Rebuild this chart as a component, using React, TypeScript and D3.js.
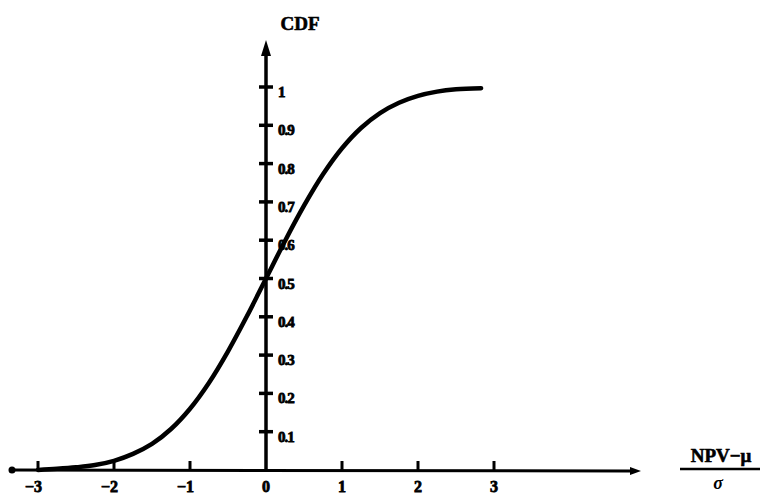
import * as d3 from 'd3';
import React from 'react';

// standardized NPV values (x) and cumulative probability (y)
const cdfX = [-3, -2.75, -2.5, -2.25, -2, -1.75, -1.5, -1.25, -1, -0.75, -0.5, -0.25, 0, 0.25, 0.5, 0.75, 1, 1.25, 1.5, 1.75, 2, 2.25, 2.5, 2.83];
const cdfY = [0.0, 0.003, 0.007, 0.013, 0.024, 0.042, 0.068, 0.107, 0.16, 0.228, 0.31, 0.402, 0.5, 0.598, 0.69, 0.772, 0.84, 0.893, 0.932, 0.959, 0.977, 0.988, 0.994, 0.997];

const xTicks = [-3, -2, -1, 0, 1, 2, 3];
const xTickLabels = ['−3', '−2', '−1', '0', '1', '2', '3'];
const yTicks = [0.1, 0.2, 0.3, 0.4, 0.5, 0.6, 0.7, 0.8, 0.9, 1];
const yTickLabels = ['0.1', '0.2', '0.3', '0.4', '0.5', '0.6', '0.7', '0.8', '0.9', '1'];

const width = 767;
const height = 495;

const App = () => {
  const x = d3.scaleLinear().domain([-3, 3]).range([38, 494]);
  const y = d3.scaleLinear().domain([0, 1]).range([470, 87]);

  const points = cdfX.map((v, i) => [v, cdfY[i]] as [number, number]);
  const line = d3
    .line<[number, number]>()
    .x((d) => x(d[0]))
    .y((d) => y(d[1]))
    .curve(d3.curveCatmullRom);

  const x0 = x(0);
  const y0 = y(0);
  const font = '"Liberation Serif", "DejaVu Serif", serif';

  return (
    <svg width={width} height={height} style={{ position: 'absolute', left: 0, top: 0 }}>
      <rect width={width} height={height} fill="#fff" />
      {/* x axis */}
      <line x1={10} y1={y0} x2={632} y2={y0 + 1} stroke="#000" strokeWidth={3} />
      <circle cx={12} cy={y0} r={3.5} fill="#000" />
      <path d={`M${641},${y0 + 1} L${630},${y0 - 3} L${630},${y0 + 5} Z`} fill="#000" />
      {/* y axis */}
      <line x1={x0} y1={y0} x2={x0} y2={52} stroke="#000" strokeWidth={3.5} />
      <path d={`M${x0},40 L${x0 - 5},56 L${x0 + 5},56 Z`} fill="#000" />

      {xTicks.map((t, i) => (
        <g key={t}>
          {t !== 0 && <line x1={x(t)} y1={y0} x2={x(t)} y2={y0 - 9} stroke="#000" strokeWidth={3} />}
          <text
            x={x(t)}
            y={y0 + 22}
            fontFamily={font}
            fontWeight="bold"
            fontSize={16}
            stroke="#000"
            strokeWidth={0.8}
            textAnchor={t < 0 ? 'end' : 'middle'}
            dx={t < 0 ? 4 : 0}
          >
            {xTickLabels[i]}
          </text>
        </g>
      ))}

      {yTicks.map((t, i) => (
        <g key={t}>
          <line x1={x0 - 7} y1={y(t)} x2={x0 + 7} y2={y(t)} stroke="#000" strokeWidth={3.5} />
          <text
            x={x0 + 12}
            y={y(t) + 10}
            fontFamily={font}
            fontWeight="bold"
            fontSize={15}
            stroke="#000"
            strokeWidth={0.8}
            letterSpacing={-1}
          >
            {yTickLabels[i]}
          </text>
        </g>
      ))}

      <path d={line(points) ?? ''} fill="none" stroke="#000" strokeWidth={4.5} strokeLinecap="round" />

      <text x={300} y={30} fontFamily={font} fontWeight="bold" fontSize={19} stroke="#000" strokeWidth={0.6} textAnchor="middle">
        CDF
      </text>
      <text x={721} y={462} fontFamily={font} fontWeight="bold" fontSize={19} stroke="#000" strokeWidth={0.6} textAnchor="middle">
        NPV−μ
      </text>
      <line x1={680} y1={469} x2={760} y2={469} stroke="#000" strokeWidth={2.5} />
      <text x={718} y={489} fontFamily={font} fontWeight="bold" fontStyle="italic" fontSize={18} textAnchor="middle">
        σ
      </text>
    </svg>
  );
};

export default App;
